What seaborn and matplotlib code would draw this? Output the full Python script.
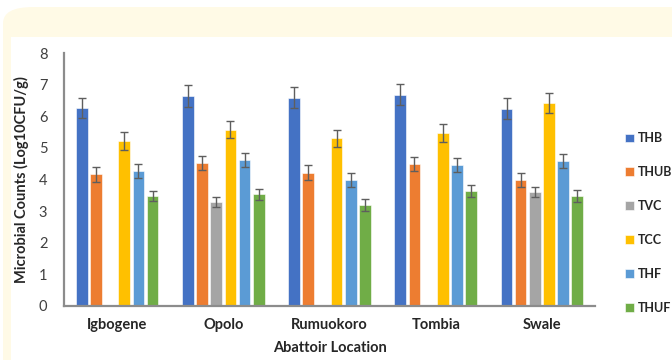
import numpy as np
import pandas as pd
import matplotlib
matplotlib.use("Agg")
import matplotlib.pyplot as plt
from matplotlib.patches import FancyBboxPatch, Rectangle
import seaborn as sns

# Mean microbial counts (log10 CFU/g) per abattoir and organism group
locations = ["Igbogene", "Opolo", "Rumuokoro", "Tombia", "Swale"]
groups = ["THB", "THUB", "TVC", "TCC", "THF", "THUF"]

thb = [6.26, 6.65, 6.59, 6.69, 6.25]
thub = [4.16, 4.53, 4.22, 4.48, 3.99]
tvc = [np.nan, 3.30, np.nan, np.nan, 3.60]
tcc = [5.22, 5.57, 5.30, 5.48, 6.42]
thf = [4.26, 4.61, 3.99, 4.45, 4.59]
thuf = [3.48, 3.53, 3.19, 3.64, 3.48]

# Standard deviations shown as error bars
thb_err = [0.31, 0.34, 0.33, 0.33, 0.33]
thub_err = [0.23, 0.22, 0.23, 0.22, 0.23]
tvc_err = [np.nan, 0.16, np.nan, np.nan, 0.17]
tcc_err = [0.28, 0.27, 0.28, 0.28, 0.31]
thf_err = [0.22, 0.22, 0.22, 0.22, 0.22]
thuf_err = [0.17, 0.18, 0.18, 0.20, 0.18]

colors = ["#4472C4", "#ED7D31", "#A5A5A5", "#FFC000", "#5B9BD5", "#70AD47"]

means = dict(zip(groups, [thb, thub, tvc, tcc, thf, thuf]))
errs = dict(zip(groups, [thb_err, thub_err, tvc_err, tcc_err, thf_err, thuf_err]))

df = pd.DataFrame(
    [(loc, g, means[g][i], errs[g][i])
     for g in groups for i, loc in enumerate(locations)],
    columns=["Location", "Group", "Count", "SD"],
)

sns.set_theme(style="white")
plt.rcParams["font.family"] = ["Lato", "DejaVu Sans"]

fig = plt.figure(figsize=(6.72, 3.60), dpi=100)
W, H = 672, 360

# Cream card with rounded corner and white chart panel inside
card = FancyBboxPatch((3 / W, -0.2), 1.2, (360 - 7) / H + 0.2,
                      boxstyle="round,pad=0,rounding_size=0.045",
                      transform=fig.transFigure, facecolor="#FFFAE6",
                      edgecolor="none", zorder=-3)
fig.patches.append(card)
panel = Rectangle((11 / W, 0), 1, (360 - 37) / H, transform=fig.transFigure,
                  facecolor="white", edgecolor="none", zorder=-2)
fig.patches.append(panel)

ax = fig.add_axes([64 / W, 1 - 305.7 / H, (595 - 64) / W, (305.7 - 53.3) / H])
ax.set_facecolor("none")

sns.barplot(data=df, x="Location", y="Count", hue="Group",
            order=locations, hue_order=groups, palette=colors,
            saturation=1, errorbar=None, width=0.8, gap=0.18, ax=ax,
            edgecolor="white", linewidth=0.4)

# Error bars placed on each drawn bar
lookup = {(r.Location, r.Group): r.SD for r in df.itertuples()}
for g, cont in zip(groups, ax.containers):
    for bar in cont:
        h = bar.get_height()
        if not np.isfinite(h) or h == 0:
            continue
        xc = bar.get_x() + bar.get_width() / 2
        loc = locations[int(round(xc))]
        sd = lookup[(loc, g)]
        ax.errorbar(xc, h, yerr=sd, fmt="none", ecolor="#5E5E5E",
                    elinewidth=1.0, capsize=2.6, capthick=1.0, zorder=5)

ax.set_ylim(0, 8)
ax.set_xlim(-0.5, 4.5)
ax.set_yticks(range(0, 9))
ax.tick_params(axis="both", length=0, labelsize=10.5, colors="#404040")
ax.tick_params(axis="y", pad=12)
ax.tick_params(axis="x", pad=9)
for lab in ax.get_xticklabels():
    lab.set_fontweight("bold")
    lab.set_color("#262626")

for side in ["top", "right"]:
    ax.spines[side].set_visible(False)
for side in ["left", "bottom"]:
    ax.spines[side].set_color("#8C8C8C")
    ax.spines[side].set_linewidth(1.6)

ax.set_xlabel("Abattoir Location", fontsize=10.5, fontweight="bold",
              color="#262626", labelpad=6)
ax.set_ylabel("Microbial Counts (Log10CFU/g)", fontsize=10.5,
              fontweight="bold", color="#262626", labelpad=7)

handles, labels = ax.get_legend_handles_labels()
if ax.legend_:
    ax.legend_.remove()
leg = fig.legend(handles, labels, loc="upper left",
                 bbox_to_anchor=(619 / W, 1 - 126 / H), frameon=False,
                 fontsize=9, handlelength=0.7, handleheight=0.7,
                 handletextpad=0.3, labelspacing=1.75, borderpad=0)
for t in leg.get_texts():
    t.set_fontweight("bold")
    t.set_color("#262626")

fig.savefig("out.png", dpi=100)
